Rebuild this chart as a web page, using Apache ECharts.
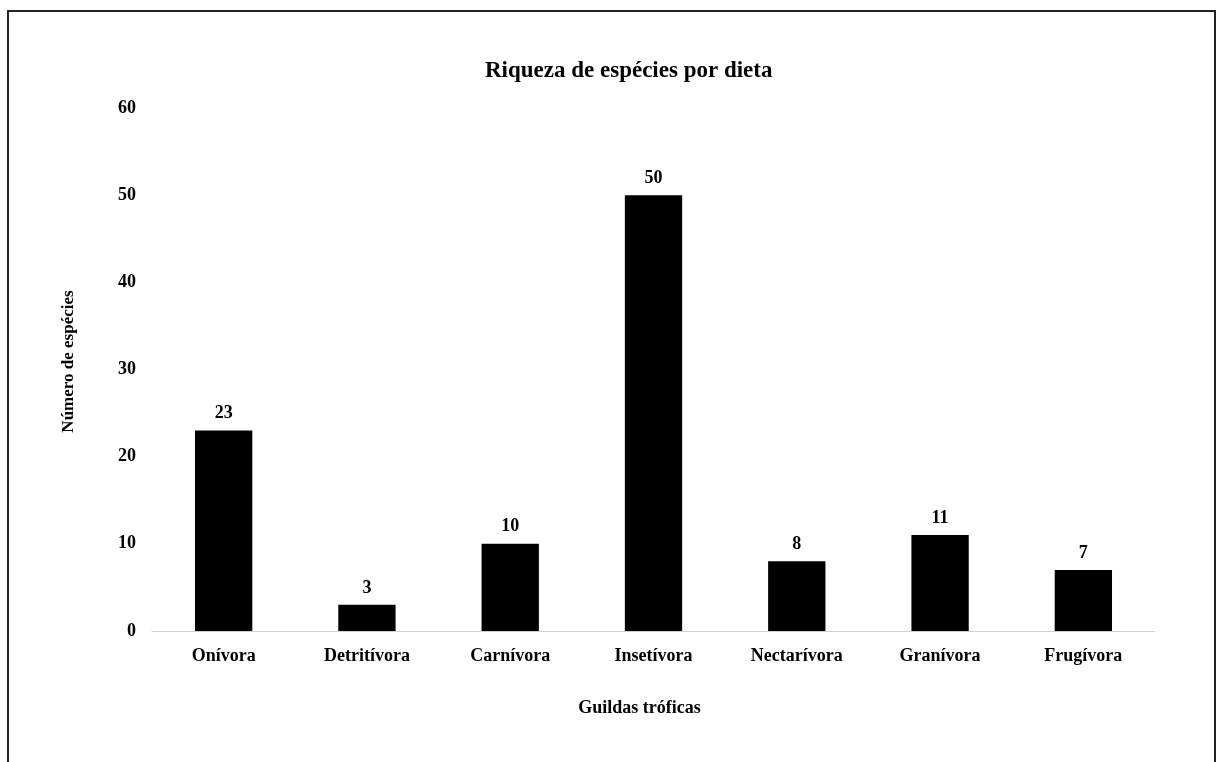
<!DOCTYPE html>
<html>
  <head>
    <meta charset="utf-8">
    <title>Riqueza de espécies por dieta</title>
    <style>
      html, body { margin: 0; padding: 0; background: #fff; }
    </style>
  </head>
  <body>
    <div id="main" style="width: 1217px;height:762px;"></div>

  <script src="https://cdn.jsdelivr.net/npm/echarts@6/dist/echarts.min.js" charset="utf-8"></script>
  <script type="text/javascript">
  var guildas = ['Onívora', 'Detritívora', 'Carnívora', 'Insetívora', 'Nectarívora', 'Granívora', 'Frugívora'];
  var especies = [23, 3, 10, 50, 8, 11, 7];
  var fonte = '"Liberation Serif", "Times New Roman", serif';

  var myChart = echarts.init(document.getElementById('main'));

  var option = {
    backgroundColor: '#fff',
    animation: false,
    textStyle: { fontFamily: fonte },
    // moldura em volta do gráfico
    graphic: [{
      type: 'rect',
      silent: true,
      shape: { x: 8, y: 11, width: 1207, height: 800 },
      style: { fill: 'none', stroke: '#222', lineWidth: 2 }
    }],
    title: {
      text: 'Riqueza de espécies por dieta',
      left: 480,
      top: 55,
      textStyle: {
        color: '#000',
        fontFamily: fonte,
        fontWeight: 'bold',
        fontSize: 23
      }
    },
    grid: {
      left: 152,
      right: 62,
      top: 108,
      bottom: 131
    },
    xAxis: {
      type: 'category',
      data: guildas,
      name: 'Guildas tróficas',
      nameLocation: 'middle',
      nameGap: 68,
      nameTextStyle: {
        color: '#000',
        fontFamily: fonte,
        fontWeight: 'bold',
        fontSize: 18,
        padding: [0, 28, 0, 0]
      },
      axisLine: { lineStyle: { color: '#d0d0d0', width: 1 } },
      axisTick: { show: false },
      axisLabel: {
        color: '#000',
        fontFamily: fonte,
        fontWeight: 'bold',
        fontSize: 18,
        margin: 16
      }
    },
    yAxis: {
      type: 'value',
      min: 0,
      max: 60,
      interval: 10,
      name: 'Número de espécies',
      nameLocation: 'middle',
      nameGap: 75,
      nameTextStyle: {
        color: '#000',
        fontFamily: fonte,
        fontWeight: 'bold',
        fontSize: 17,
        padding: [0, 0, 0, 16]
      },
      axisLine: { show: false },
      axisTick: { show: false },
      splitLine: { show: false },
      axisLabel: {
        color: '#000',
        fontFamily: fonte,
        fontWeight: 'bold',
        fontSize: 18,
        margin: 16
      }
    },
    series: [{
      type: 'bar',
      data: especies,
      barWidth: '40%',
      itemStyle: { color: '#000' },
      label: {
        show: true,
        position: 'top',
        distance: 8,
        color: '#000',
        fontFamily: fonte,
        fontWeight: 'bold',
        fontSize: 18
      }
    }]
  };
  myChart.setOption(option);
  </script>
  </body>
</html>
